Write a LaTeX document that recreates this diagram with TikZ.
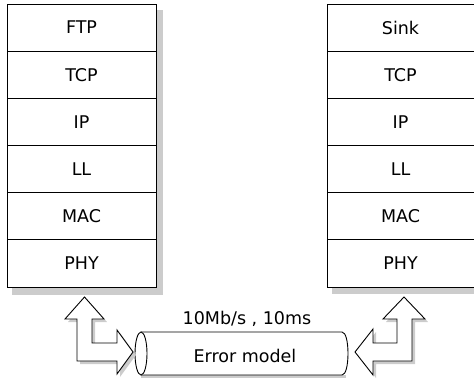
\documentclass[tikz,border=0pt]{standalone}
\usepackage{fontspec}
\setmainfont{DejaVu Sans}
\begin{document}
\begin{tikzpicture}[x=1pt,y=-1pt,
  layer/.style={draw=black, line width=0.9pt, fill=white, minimum width=149pt, minimum height=47.2pt, inner sep=0pt, font=\fontsize{17.5}{19}\selectfont},
  rlayer/.style={layer, minimum width=147pt},
  shade/.style={fill=black!20, draw=none},
  blockarrow/.style={draw=black, line width=0.9pt, fill=white, line join=miter},
  lbl/.style={inner sep=0pt, font=\fontsize{17.5}{19}\selectfont}]
\useasboundingbox (0,0) rectangle (474,378);
% shadows of the stacks
\fill[shade] (157,10) rectangle (163,295);
\fill[shade] (12,288) rectangle (163,295);
\fill[shade] (332,288) rectangle (474,294);
% left stack
\node[layer] (lftp) at (81.5,27.6) {FTP};
\node[layer] (ltcp) at (81.5,74.8) {TCP};
\node[layer] (lip)  at (81.5,121.9) {IP};
\node[layer] (lll)  at (81.5,169.1) {LL};
\node[layer] (lmac) at (81.5,216.3) {MAC};
\node[layer] (lphy) at (81.5,263.5) {PHY};
% right stack
\node[rlayer] (rsink) at (400.5,27.6) {Sink};
\node[rlayer] (rtcp)  at (400.5,74.8) {TCP};
\node[rlayer] (rip)   at (400.5,121.9) {IP};
\node[rlayer] (rll)   at (400.5,169.1) {LL};
\node[rlayer] (rmac)  at (400.5,216.3) {MAC};
\node[rlayer] (rphy)  at (400.5,263.5) {PHY};
% cylinder (error model)
\fill[shade] (141,375) rectangle (346,378);
\draw[line width=0.9pt, fill=white] (141,332) -- (342,332) .. controls (350,332) and (350,375) .. (342,375) -- (141,375);
\draw[line width=0.9pt, fill=white] (141,353.5) ellipse[x radius=6, y radius=21.5];
\node[lbl] (errm) at (245,355.5) {Error model};
\node[lbl] (link) at (247,318.5) {10Mb/s , 10ms};
% left block arrow
\fill[shade, shift={(3,3)}] (84.5,297) -- (104,319) -- (92,319) -- (92,343) -- (117,343) -- (117,330) -- (133,352) -- (117,374) -- (117,361) -- (77,361) -- (77,319) -- (65,319) -- cycle;
\draw[blockarrow] (84.5,297) -- (104,319) -- (92,319) -- (92,343) -- (117,343) -- (117,330) -- (133,352) -- (117,374) -- (117,361) -- (77,361) -- (77,319) -- (65,319) -- cycle;
% right block arrow
\fill[shade, shift={(3,3)}] (404,297) -- (425,319) -- (412,319) -- (412,361) -- (373,361) -- (373,375) -- (355,352) -- (373,329) -- (373,343) -- (397,343) -- (397,319) -- (383,319) -- cycle;
\draw[blockarrow] (404,297) -- (425,319) -- (412,319) -- (412,361) -- (373,361) -- (373,375) -- (355,352) -- (373,329) -- (373,343) -- (397,343) -- (397,319) -- (383,319) -- cycle;
\end{tikzpicture}
\end{document}
